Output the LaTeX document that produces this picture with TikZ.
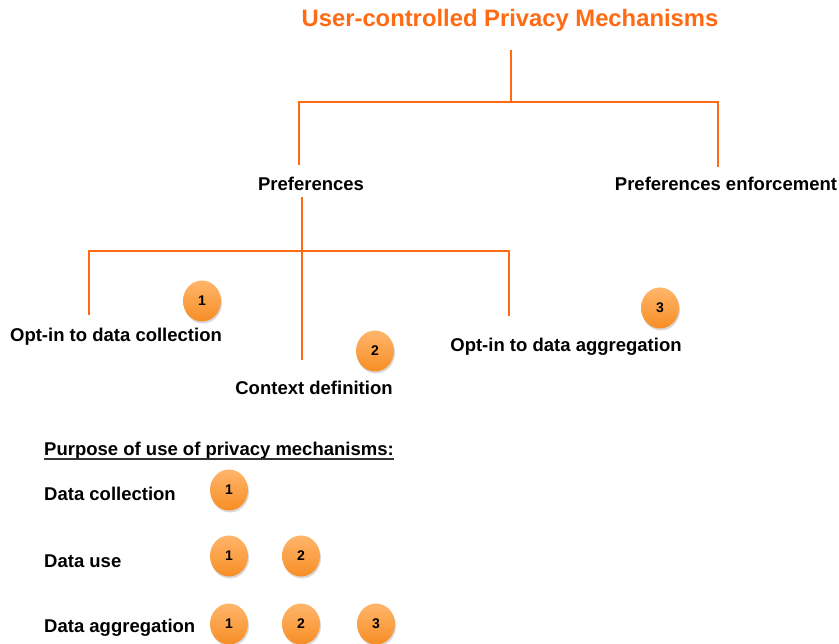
\documentclass[tikz,border=0pt]{standalone}
\usepackage{fontspec}
\setmainfont{Liberation Sans}
\usetikzlibrary{shapes.geometric,shadows}
\definecolor{treeorange}{HTML}{FF6A13}
\definecolor{balltop}{HTML}{FFB56A}
\definecolor{ballbot}{HTML}{F78E26}
\begin{document}
\begin{tikzpicture}[x=1pt,y=-1pt,
  title/.style={font=\bfseries\fontsize{23.8}{27}\selectfont, text=treeorange, inner sep=0pt},
  label/.style={font=\bfseries\fontsize{18.5}{22}\selectfont, inner sep=0pt},
  badge/.style={ellipse, minimum width=38pt, minimum height=41pt, inner sep=0pt,
    top color=balltop, bottom color=ballbot, draw=none,
    drop shadow={shadow xshift=1pt, shadow yshift=-2pt, opacity=0.3},
    font=\bfseries\fontsize{14}{16}\selectfont},
  branch/.style={draw=treeorange, line width=2pt}]
\useasboundingbox (0,0) rectangle (839,644);

% tree labels
\node[title] (top) at (510,20) {User-controlled Privacy Mechanisms};
\node[label] (pref) at (311,184) {Preferences};
\node[label] (enf) at (726,184) {Preferences enforcement};
\node[label] (opt1) at (116,337) {Opt-in to data collection};
\node[label] (ctx) at (314,388) {Context definition};
\node[label] (opt2) at (566,347) {Opt-in to data aggregation};

% numbered markers next to the leaves
\node[badge] (b1) at (202,301) {1};
\node[badge] (b2) at (375,351) {2};
\node[badge] (b3) at (660,308) {3};

% first level of the tree
\coordinate (r0) at (511,50);
\coordinate (r1) at (511,102);
\coordinate (rl) at (299,102);
\coordinate (rr) at (718,102);
\coordinate (rlend) at (299,165);
\coordinate (rrend) at (718,167);
\draw[branch] (r0) -- (r1);
\draw[branch] (rlend) -- (rl) -- (rr) -- (rrend);

% second level under Preferences
\coordinate (p0) at (302,197);
\coordinate (pend) at (302,360);
\coordinate (pl) at (89,251);
\coordinate (pr) at (509,251);
\coordinate (plend) at (89,315);
\coordinate (prend) at (509,316);
\draw[branch] (p0) -- (pend);
\draw[branch] (plend) -- (pl) -- (pr) -- (prend);

% legend
\node[label, anchor=west] (purpose) at (44,451)
  {Purpose of use of privacy mechanisms:};
\draw[line width=1.5pt, black!80] ([yshift=-3pt]purpose.base west) -- ([yshift=-3pt]purpose.base east);
\node[label, anchor=west] (dcol) at (44,494) {Data collection};
\node[label, anchor=west] (duse) at (44,561) {Data use};
\node[label, anchor=west] (dagg) at (44,628) {Data aggregation};

\node[badge] (c11) at (229,490) {1};
\node[badge] (c21) at (229,556) {1};
\node[badge] (c22) at (301,556) {2};
\node[badge] (c31) at (229,624) {1};
\node[badge] (c32) at (301,624) {2};
\node[badge] (c33) at (376,624) {3};
\end{tikzpicture}
\end{document}
